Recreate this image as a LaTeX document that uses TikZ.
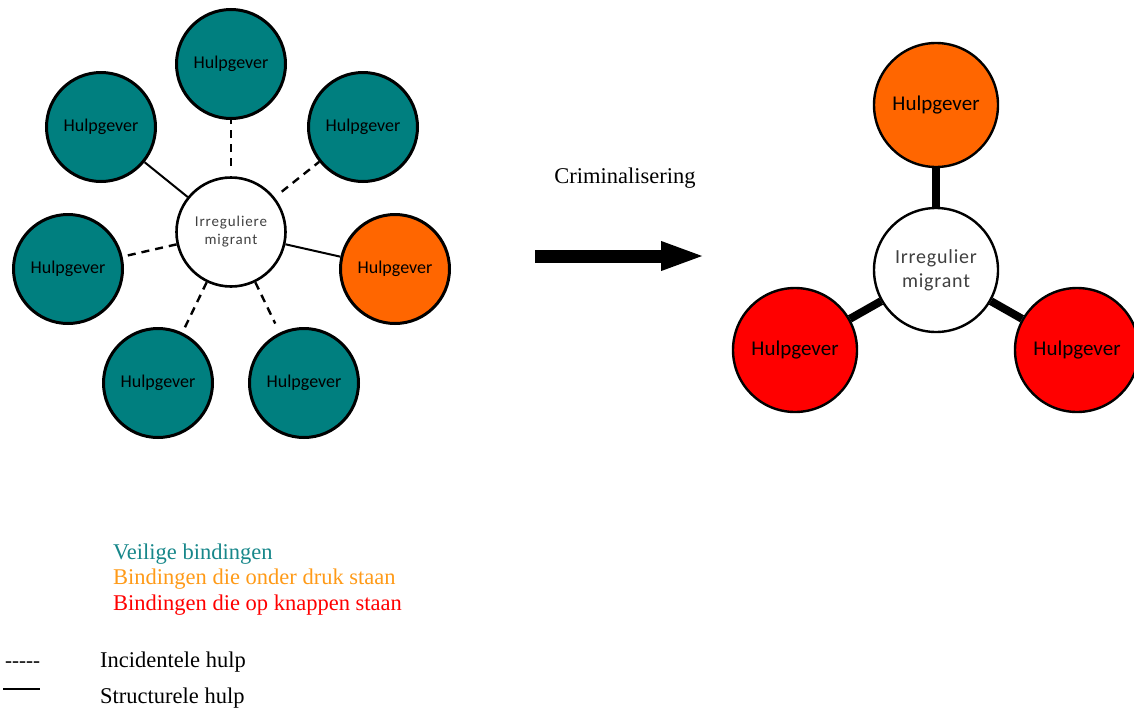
\documentclass[tikz,border=0pt]{standalone}
\usepackage{fontspec}
\setmainfont{Liberation Serif}
\newfontfamily\calibri{Carlito}
\usetikzlibrary{arrows.meta}
\definecolor{hgteal}{HTML}{007F7F}
\definecolor{hgorange}{HTML}{FF6600}
\definecolor{hgred}{HTML}{FF0000}
\definecolor{legteal}{HTML}{17878A}
\definecolor{legorange}{HTML}{FF9A17}
\definecolor{migtext}{HTML}{404040}
\begin{document}
\begin{tikzpicture}[x=1pt,y=-1pt,
  helper/.style={circle,draw=black,line width=3pt,minimum size=109pt,inner sep=0pt,
    font=\calibri\fontsize{18}{20}\selectfont},
  helperbig/.style={circle,draw=black,line width=2.4pt,minimum size=124pt,inner sep=0pt,
    font=\calibri\fontsize{21}{24}\selectfont},
  migrant/.style={circle,draw=black,line width=2.6pt,fill=white,minimum size=109pt,inner sep=0pt,
    align=center,text=migtext,font=\calibri\addfontfeatures{LetterSpace=6}\fontsize{15}{18}\selectfont},
  migrantbig/.style={circle,draw=black,line width=2.4pt,fill=white,minimum size=124pt,inner sep=0pt,
    align=center,text=migtext,font=\calibri\addfontfeatures{LetterSpace=4}\fontsize{20}{24}\selectfont},
  incidental/.style={line width=2.4pt,dash pattern=on 8pt off 6pt},
  structural/.style={line width=2pt},
  broken/.style={line width=8pt},
  legend/.style={anchor=base west,inner sep=0pt,font=\fontsize{22.5}{26}\selectfont}]
\useasboundingbox (0,0) rectangle (1134,707);

% before
\node[migrant] (M) at (231,232) {Irreguliere\\migrant};
\node[helper,fill=hgteal] (H1) at (231,64) {Hulpgever};
\node[helper,fill=hgteal] (H2) at (363,127) {Hulpgever};
\node[helper,fill=hgorange] (H3) at (395,269) {Hulpgever};
\node[helper,fill=hgteal] (H4) at (304,383) {Hulpgever};
\node[helper,fill=hgteal] (H5) at (158,383) {Hulpgever};
\node[helper,fill=hgteal] (H6) at (68,269) {Hulpgever};
\node[helper,fill=hgteal] (H7) at (101,127) {Hulpgever};

\draw[incidental,shorten <=10pt] (M) -- (H1);
\draw[incidental,shorten <=9pt] (M) -- (H2);
\draw[structural] (M) -- (H3);
\draw[incidental,shorten >=10pt] (M) -- (H4);
\draw[incidental] (M) -- (H5);
\draw[incidental] (M) -- (H6);
\draw[structural] (M) -- (H7);

% arrow
\node[font=\fontsize{22.5}{26}\selectfont] (CR) at (625,178) {Criminalisering};
\coordinate (A1) at (535,256);
\coordinate (A2) at (706,256);
\draw[line width=13pt,-{Triangle[length=45pt,width=26pt]}] (A1) -- (A2);

% after
\node[migrantbig] (N) at (936,270) {Irregulier\\migrant};
\node[helperbig,fill=hgorange] (R1) at (936,105) {Hulpgever};
\node[helperbig,fill=hgred] (R2) at (795,350) {Hulpgever};
\node[helperbig,fill=hgred] (R3) at (1077,350) {Hulpgever};

\draw[broken] (N) -- (R1);
\draw[broken] (N) -- (R2);
\draw[broken] (N) -- (R3);

% legend
\node[legend,text=legteal] (L1) at (113,559) {Veilige bindingen};
\node[legend,text=legorange] (L2) at (113,584) {Bindingen die onder druk staan};
\node[legend,text=hgred] (L3) at (113,610) {Bindingen die op knappen staan};
\node[legend,font=\fontsize{21}{24}\selectfont] (D1) at (5,667) {-{}-{}-{}-{}-};
\node[legend] (L4) at (100,667) {Incidentele hulp};
\coordinate (S1) at (3,689);
\coordinate (S2) at (40,689);
\draw[line width=1.8pt] (S1) -- (S2);
\node[legend] (L5) at (100,703) {Structurele hulp};
\end{tikzpicture}
\end{document}
